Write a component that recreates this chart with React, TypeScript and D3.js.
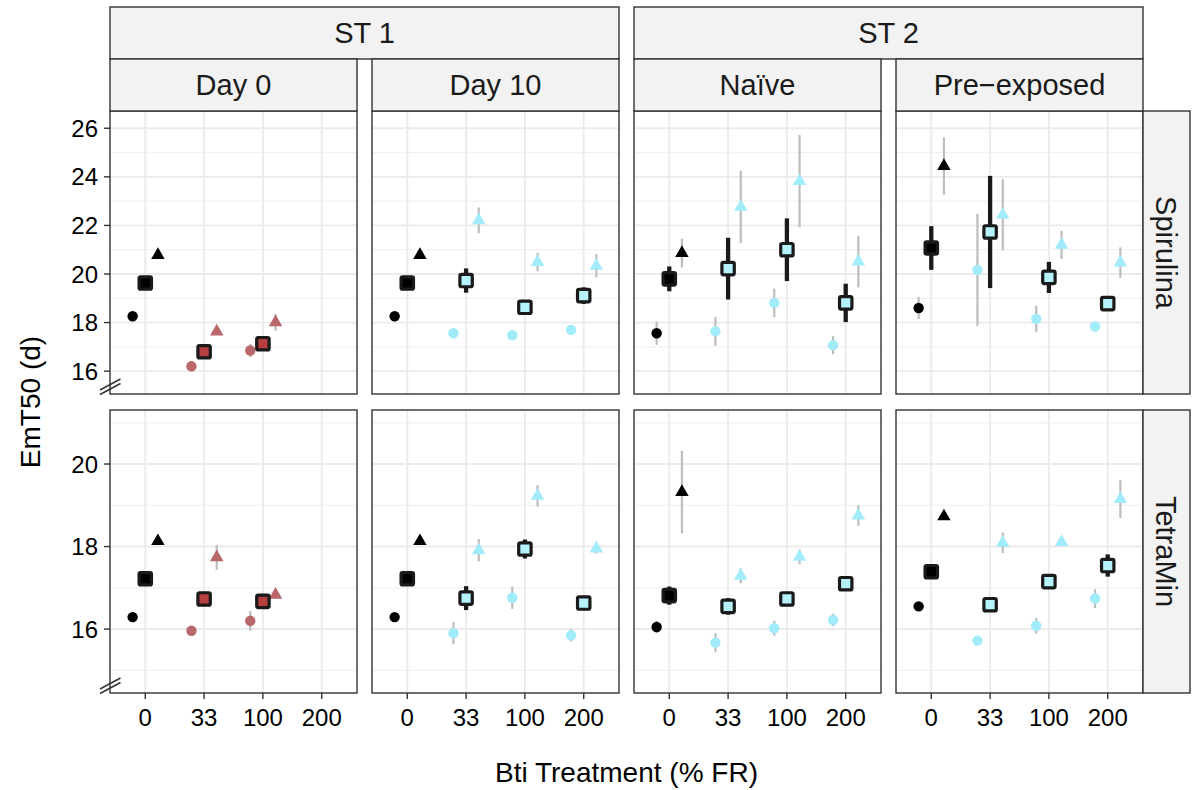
import React from "react";
import * as d3 from "d3";

// ---------- data ----------
const doses = ["0", "33", "100", "200"];
const columns = ["Day 0", "Day 10", "Naïve", "Pre\u2212exposed"];
const groupLabels = ["ST 1", "ST 2"];
const groupColumns = [[0, 1], [2, 3]];
const diets = ["Spirulina", "TetraMin"];
const yTickLabels = [[16, 18, 20, 22, 24, 26], [16, 18, 20]];
const yMinorTicks = [[17, 19, 21, 23, 25], [15, 17, 19, 21]];
const yLimits = [[15.06, 26.71], [14.45, 21.31]];

// Spirulina: [column][dose]
const spirulinaCircle = [[18.26, 16.2, 16.85, null], [18.26, 17.56, 17.48, 17.7], [17.56, 17.64, 18.81, 17.07], [18.6, 20.17, 18.15, 17.84]];
const spirulinaCircleErr = [[0.08, 0.08, 0.27, null], [0.08, 0.2, 0.2, 0.12], [0.48, 0.59, 0.59, 0.37], [0.45, 2.31, 0.55, 0.2]];
const spirulinaSquare = [[19.63, 16.8, 17.13, null], [19.63, 19.73, 18.63, 19.11], [19.8, 20.22, 21.0, 18.81], [21.07, 21.73, 19.86, 18.78]];
const spirulinaSquareErr = [[0.08, 0.08, 0.08, null], [0.08, 0.5, 0.15, 0.34], [0.51, 1.27, 1.29, 0.79], [0.9, 2.31, 0.64, 0.12]];
const spirulinaTriangle = [[20.78, 17.63, 18.01, null], [20.78, 22.21, 20.49, 20.34], [20.86, 22.76, 23.82, 20.51], [24.44, 22.44, 21.2, 20.47]];
const spirulinaTriangleErr = [[0.15, 0.08, 0.35, null], [0.15, 0.53, 0.38, 0.48], [0.59, 1.49, 1.9, 1.06], [1.18, 1.47, 0.58, 0.63]];

// TetraMin: [column][dose]
const tetraCircle = [[16.29, 15.96, 16.2, null], [16.29, 15.9, 16.76, 15.85], [16.05, 15.67, 16.02, 16.22], [16.55, 15.72, 16.08, 16.74]];
const tetraCircleErr = [[0.05, 0.05, 0.24, null], [0.05, 0.27, 0.27, 0.15], [0.15, 0.23, 0.18, 0.15], [0.1, 0.05, 0.19, 0.23]];
const tetraSquare = [[17.22, 16.73, 16.67, null], [17.22, 16.75, 17.94, 16.63], [16.81, 16.55, 16.73, 17.1], [17.39, 16.59, 17.15, 17.54]];
const tetraSquareErr = [[0.05, 0.05, 0.05, null], [0.05, 0.29, 0.23, 0.05], [0.22, 0.2, 0.05, 0.05], [0.05, 0.05, 0.05, 0.27]];
const tetraTriangle = [[18.13, 17.74, 16.83, null], [18.13, 17.91, 19.23, 17.95], [19.32, 17.29, 17.75, 18.75], [18.73, 18.09, 18.11, 19.15]];
const tetraTriangleErr = [[0.08, 0.3, 0.1, null], [0.08, 0.27, 0.26, 0.12], [1.0, 0.18, 0.18, 0.25], [0.08, 0.25, 0.08, 0.46]];

const rowData = [
  { circle: spirulinaCircle, circleErr: spirulinaCircleErr, square: spirulinaSquare, squareErr: spirulinaSquareErr, tri: spirulinaTriangle, triErr: spirulinaTriangleErr },
  { circle: tetraCircle, circleErr: tetraCircleErr, square: tetraSquare, squareErr: tetraSquareErr, tri: tetraTriangle, triErr: tetraTriangleErr },
];

// ---------- layout / style ----------
const W = 1192;
const H = 790;
const panelLeft0 = 110;
const panelW = 247;
const panelGapX = 15;
const panelTop0 = 111;
const panelH = 283;
const panelGapY = 16;
const stripH = 52;
const stripTop = 7;
const rightStripW = 47;
const FONT = "'Liberation Sans', Arial, Helvetica, sans-serif";
const TICK_FS = 24;
const STRIP_FS = 29;
const TITLE_FS = 28;

const ctrlColor = "#000000";
const redPoint = "#b8676a";
const redSquare = "#b83f3f";
const cyanPoint = "#a1ebfa";
const cyanSquare = "#b6f2fc";
const errGrey = "#bdbdbd";
const dark = "#1a1a1a";
const frame = "#333333";
const gridMajor = "#ebebeb";
const gridMinor = "#f1f1f1";
const stripFill = "#f2f2f2";

function triPath(cx: number, cy: number, R: number) {
  const top = 1.555 * R, half = 1.347 * R, bot = 0.778 * R;
  return `M${cx},${cy - top}L${cx + half},${cy + bot}L${cx - half},${cy + bot}Z`;
}

export default function App() {
  const panels: React.ReactNode[] = [];
  const cols = columns.map((_, c) => panelLeft0 + c * (panelW + panelGapX));
  const rows = diets.map((_, r) => panelTop0 + r * (panelH + panelGapY));
  const rightEdge = cols[3] + panelW;

  diets.forEach((diet, r) => {
    const top = rows[r];
    const bottom = top + panelH;
    const y = d3.scaleLinear().domain(yLimits[r]).range([bottom, top]);
    const d = rowData[r];
    columns.forEach((col, c) => {
      const left = cols[c];
      const x = d3.scalePoint<string>().domain(doses).range([left, left + panelW]).padding(0.6);
      const step = x.step();
      const off = 0.215 * step;
      const key = `${r}-${c}`;
      const els: React.ReactNode[] = [];
      // background grid
      yMinorTicks[r].forEach((t) => {
        if (t > yLimits[r][0] && t < yLimits[r][1])
          els.push(<line key={`mn${t}`} x1={left} x2={left + panelW} y1={y(t)} y2={y(t)} stroke={gridMinor} strokeWidth={1.2} />);
      });
      yTickLabels[r].forEach((t) => {
        els.push(<line key={`mj${t}`} x1={left} x2={left + panelW} y1={y(t)} y2={y(t)} stroke={gridMajor} strokeWidth={1.9} />);
      });
      doses.forEach((ds) => {
        els.push(<line key={`vx${ds}`} x1={x(ds)} x2={x(ds)} y1={top} y2={bottom} stroke={gridMajor} strokeWidth={1.9} />);
      });
      // error bars (grey) for circles/triangles
      doses.forEach((ds, i) => {
        const cx = x(ds)!;
        const cv = d.circle[c][i], ce = d.circleErr[c][i];
        const tv = d.tri[c][i], te = d.triErr[c][i];
        if (cv != null && ce != null)
          els.push(<line key={`ce${i}`} x1={cx - off} x2={cx - off} y1={y(cv - ce)} y2={y(cv + ce)} stroke={errGrey} strokeWidth={2.2} />);
        if (tv != null && te != null)
          els.push(<line key={`te${i}`} x1={cx + off} x2={cx + off} y1={y(tv - te)} y2={y(tv + te)} stroke={errGrey} strokeWidth={2.2} />);
      });
      // circles & triangles
      doses.forEach((ds, i) => {
        const cx = x(ds)!;
        const isCtrl = i === 0;
        const pc = isCtrl ? ctrlColor : c === 0 ? redPoint : cyanPoint;
        const cv = d.circle[c][i];
        const tv = d.tri[c][i];
        if (cv != null) els.push(<circle key={`c${i}`} cx={cx - off} cy={y(cv)} r={5.2} fill={pc} />);
        if (tv != null) els.push(<path key={`t${i}`} d={triPath(cx + off, y(tv), 5.0)} fill={pc} />);
      });
      // squares with black error bars
      doses.forEach((ds, i) => {
        const cx = x(ds)!;
        const sv = d.square[c][i], se = d.squareErr[c][i];
        if (sv == null || se == null) return;
        const isCtrl = i === 0;
        const fill = isCtrl ? ctrlColor : c === 0 ? redSquare : cyanSquare;
        els.push(<line key={`se${i}`} x1={cx} x2={cx} y1={y(sv - se)} y2={y(sv + se)} stroke={dark} strokeWidth={4.3} />);
        els.push(<rect key={`s${i}`} x={cx - 6.2} y={y(sv) - 6.2} width={12.4} height={12.4} rx={1.5} fill={fill} stroke={dark} strokeWidth={3.2} />);
      });
      // frame
      els.push(<rect key="frame" x={left} y={top} width={panelW} height={panelH} fill="none" stroke={frame} strokeWidth={1.4} />);
      // y axis on first column
      if (c === 0) {
        yTickLabels[r].forEach((t) => {
          els.push(<line key={`yt${t}`} x1={left - 6} x2={left} y1={y(t)} y2={y(t)} stroke={frame} strokeWidth={1.4} />);
          els.push(
            <text key={`yl${t}`} x={left - 12} y={y(t)} dy="0.36em" textAnchor="end" fontSize={TICK_FS} fontFamily={FONT} fill="#000">
              {t}
            </text>
          );
        });
        // axis break marks
        els.push(<line key="br1" x1={left - 10} y1={bottom - 4} x2={left + 10.5} y2={bottom - 15} stroke={frame} strokeWidth={1.5} />);
        els.push(<line key="br2" x1={left - 10} y1={bottom + 0.5} x2={left + 10.5} y2={bottom - 10.5} stroke={frame} strokeWidth={1.5} />);
      }
      // x axis on bottom row
      if (r === diets.length - 1) {
        doses.forEach((ds) => {
          els.push(<line key={`xt${ds}`} x1={x(ds)} x2={x(ds)} y1={bottom} y2={bottom + 6} stroke={frame} strokeWidth={1.4} />);
          els.push(
            <text key={`xl${ds}`} x={x(ds)} y={bottom + 33} textAnchor="middle" fontSize={TICK_FS} fontFamily={FONT} fill="#000">
              {ds}
            </text>
          );
        });
      }
      panels.push(<g key={key}>{els}</g>);
    });
    // right strip
    panels.push(
      <g key={`rs${r}`}>
        <rect x={rightEdge} y={top} width={rightStripW} height={panelH} fill={stripFill} stroke={frame} strokeWidth={1.4} />
        <text
          transform={`translate(${rightEdge + rightStripW / 2},${top + panelH / 2}) rotate(90)`}
          textAnchor="middle"
          dy="0.35em"
          fontSize={STRIP_FS}
          fontFamily={FONT}
          fill="#1a1a1a"
        >
          {diet}
        </text>
      </g>
    );
  });

  // top strips
  const strips: React.ReactNode[] = [];
  groupLabels.forEach((g, gi) => {
    const [a, b] = groupColumns[gi];
    const x0 = cols[a];
    const x1 = cols[b] + panelW;
    strips.push(
      <g key={`g${gi}`}>
        <rect x={x0} y={stripTop} width={x1 - x0} height={stripH} fill={stripFill} stroke={frame} strokeWidth={1.4} />
        <text x={(x0 + x1) / 2} y={stripTop + stripH / 2} dy="0.35em" textAnchor="middle" fontSize={STRIP_FS} fontFamily={FONT} fill="#1a1a1a">
          {g}
        </text>
      </g>
    );
  });
  columns.forEach((col, c) => {
    const x0 = cols[c];
    strips.push(
      <g key={`cs${c}`}>
        <rect x={x0} y={stripTop + stripH} width={panelW} height={panelTop0 - stripTop - stripH} fill={stripFill} stroke={frame} strokeWidth={1.4} />
        <text x={x0 + panelW / 2} y={(stripTop + stripH + panelTop0) / 2} dy="0.35em" textAnchor="middle" fontSize={STRIP_FS} fontFamily={FONT} fill="#1a1a1a">
          {col}
        </text>
      </g>
    );
  });

  const plotMidX = (cols[0] + rightEdge) / 2;
  const plotMidY = (rows[0] + rows[1] + panelH) / 2;

  return (
    <svg width={W} height={H} style={{ position: "absolute", left: 0, top: 0, background: "#fff" }}>
      <rect x={0} y={0} width={W} height={H} fill="#fff" />
      {panels}
      {strips}
      <text x={plotMidX} y={772} dy="0.35em" textAnchor="middle" fontSize={TITLE_FS} fontFamily={FONT} fill="#000">
        Bti Treatment (% FR)
      </text>
      <text transform={`translate(30,${plotMidY}) rotate(-90)`} dy="0.35em" textAnchor="middle" fontSize={TITLE_FS} fontFamily={FONT} fill="#000">
        EmT50 (d)
      </text>
    </svg>
  );
}
